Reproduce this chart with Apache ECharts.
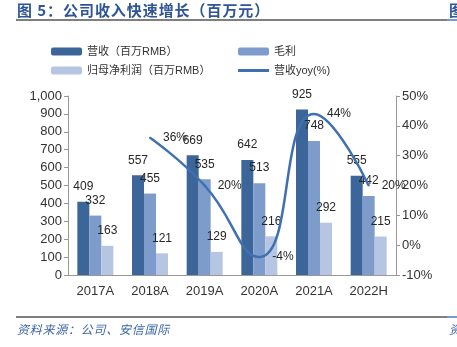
<!DOCTYPE html>
<html><head><meta charset="utf-8">
<script src="https://cdn.jsdelivr.net/npm/echarts@6/dist/echarts.min.js"></script>
<style>html,body{margin:0;padding:0;background:#fff}#c{width:457px;height:347px}</style>
</head><body><div id="c"></div>
<script>
const categories = ['2017A','2018A','2019A','2020A','2021A','2022H'];
const revenue = [409, 557, 669, 642, 925, 555];
const grossProfit = [332, 455, 535, 513, 748, 442];
const netProfit = [163, 121, 129, 216, 292, 215];
const revenueYoy = [null, 36, 20, -4, 44, 20];
const leftTicks = {min: 0, max: 1000, interval: 100};
const rightTicks = {min: -10, max: 50, interval: 10};

const C1 = '#3C6599', C2 = '#7E9CCB', C3 = '#B6C5E2', CL = '#3F70B0';
const font = 'Liberation Sans, Arial, "Noto Sans CJK SC", sans-serif';
const chart = echarts.init(document.getElementById('c'), null, {renderer: 'canvas'});
const barLabel = {show: true, position: 'top', distance: 9, color: '#262626', fontSize: 12, fontFamily: font};
const legendBase = {itemWidth: 31, itemHeight: 8, textStyle: {fontSize: 11, color: '#333', fontFamily: font}, itemGap: 6, selectedMode: false};
const spaced = s => s.split('').join('\u200A');
chart.setOption({
  animation: false,
  textStyle: {fontFamily: font},
  grid: {left: 68, right: 61, top: 96, bottom: 72},
  legend: [
    Object.assign({left: 46, top: 41, data: ['营收（百万RMB）']}, legendBase),
    Object.assign({left: 233, top: 41, data: ['毛利']}, legendBase),
    Object.assign({left: 46, top: 60, data: ['归母净利润（百万RMB）']}, legendBase),
    {left: 233, top: 60, itemWidth: 31, itemHeight: 3, itemGap: 6, selectedMode: false,
     textStyle: legendBase.textStyle,
     data: [{name: '营收yoy(%)', icon: 'rect', itemStyle: {color: CL, opacity: 1}}]}
  ],
  xAxis: {
    type: 'category', data: categories,
    axisLine: {lineStyle: {color: '#999'}},
    axisTick: {show: false},
    axisLabel: {color: '#333', fontSize: 13, margin: 10}
  },
  yAxis: [
    {type: 'value', min: leftTicks.min, max: leftTicks.max, interval: leftTicks.interval,
     splitLine: {show: false},
     axisLine: {show: true, lineStyle: {color: '#999'}},
     axisTick: {show: true, length: 4, lineStyle: {color: '#999'}},
     axisLabel: {color: '#333', fontSize: 13, margin: 6, formatter: v => v.toLocaleString('en-US')}},
    {type: 'value', min: rightTicks.min, max: rightTicks.max, interval: rightTicks.interval,
     splitLine: {show: false},
     axisLine: {show: true, lineStyle: {color: '#999'}},
     axisTick: {show: true, length: 4, lineStyle: {color: '#999'}},
     axisLabel: {color: '#333', fontSize: 13, margin: 6, formatter: '{value}%'}}
  ],
  series: [
    {name: '营收（百万RMB）', type: 'bar', data: revenue, barWidth: 12, barGap: '0%', itemStyle: {color: C1}, label: barLabel},
    {name: '毛利', type: 'bar', data: grossProfit, barWidth: 12, barGap: '0%', itemStyle: {color: C2}, label: barLabel},
    {name: '归母净利润（百万RMB）', type: 'bar', data: netProfit, barWidth: 12, barGap: '0%', itemStyle: {color: C3}, label: barLabel},
    {name: '营收yoy(%)', type: 'line', yAxisIndex: 1, data: revenueYoy, smooth: 0.5,
     symbol: 'circle', symbolSize: 2, showSymbol: true, showAllSymbol: true,
     lineStyle: {color: CL, width: 2.5}, itemStyle: {color: CL}, z: 5,
     labelLayout: {hideOverlap: false},
     label: {show: true, position: 'right', distance: 12, color: '#262626', fontSize: 12, formatter: p => p.value + '%'}}
  ],
  graphic: [
    {type: 'text', left: 17, top: 3, style: {text: spaced('图 5：公司收入快速增长（百万元）'), font: 'bold 15px "Noto Sans CJK SC", sans-serif', fill: '#2E5597'}},
    {type: 'text', left: 449, top: 3, style: {text: '图', font: 'bold 15px "Noto Sans CJK SC", sans-serif', fill: '#2E5597'}},
    {type: 'line', shape: {x1: 16, y1: 20, x2: 447, y2: 20}, style: {stroke: '#555', lineWidth: 1.5}},
    {type: 'line', shape: {x1: 447, y1: 20, x2: 457, y2: 20}, style: {stroke: '#4A78C0', lineWidth: 1.5}},
    {type: 'line', shape: {x1: 16, y1: 317, x2: 447, y2: 317}, style: {stroke: '#555', lineWidth: 1.5}},
    {type: 'line', shape: {x1: 447, y1: 317, x2: 457, y2: 317}, style: {stroke: '#4A78C0', lineWidth: 1.5}},
    {type: 'text', left: 17, top: 323, style: {text: spaced('资料来源：公司、安信国际'), font: 'italic 12px "Noto Sans CJK SC", sans-serif', fill: '#3A66A8'}},
    {type: 'text', left: 449, top: 323, style: {text: '资', font: 'italic 12px "Noto Sans CJK SC", sans-serif', fill: '#3A66A8'}}
  ]
});
</script></body></html>
